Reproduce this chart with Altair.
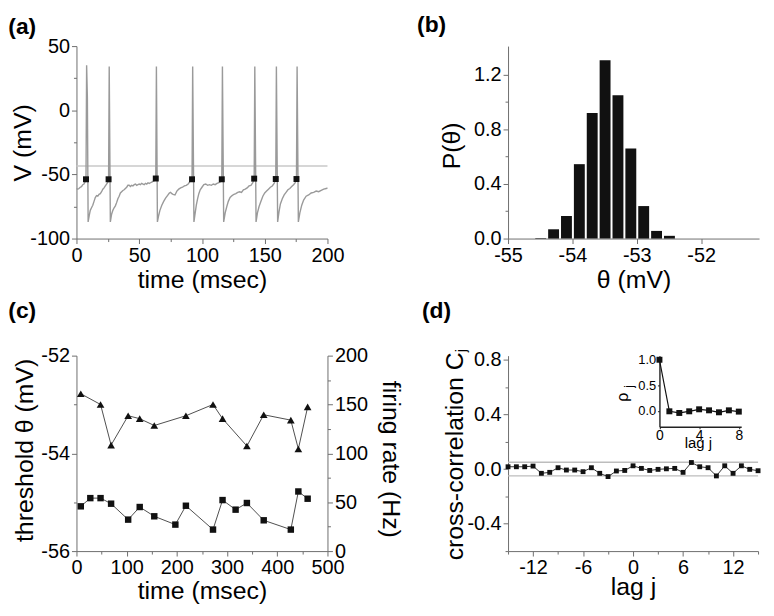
import altair as alt
import pandas as pd

FONT = "Liberation Sans"

# ---------------- (a) membrane potential trace ----------------
trace_t = [0, 1, 2, 3, 4, 5, 6, 7, 7.6, 8.1, 8.7, 9.3,
           10.2, 11, 12, 13, 14, 15, 16, 17, 18, 19, 20, 21, 22, 23, 24, 25, 25.6, 26.1, 27.0,
           28, 29, 30, 31, 32, 33, 34, 35, 36, 37, 38, 39, 40, 41, 42, 43, 44, 45, 46, 47, 48, 49, 50,
           51, 52, 53, 54, 55, 56, 57, 58, 59, 60, 61, 62, 63.2, 63.7, 64.5,
           65.5, 66.5, 68, 69.5, 71, 72.5, 74, 75, 76, 77, 78.5, 80, 81.5, 83, 84.5, 86, 87.5, 89, 90.5,
           92.1, 92.6, 93.6,
           94.6, 95.5, 96.5, 97.5, 98.6, 100, 101.5, 103, 104.5, 106, 107.5, 109, 110.5, 112, 113.5, 115,
           115.8, 116.3, 117.3,
           118.5, 119.8, 121, 122.4, 124, 125.5, 127, 128.5, 130, 131.5, 133, 134.5, 136, 137.5, 139, 140.5,
           141.6, 142.1, 143.1,
           144.2, 145.5, 147, 148.5, 150, 151.5, 153, 154.5, 156, 157.5, 158.8, 159.3, 160.3,
           161.4, 162.5, 164, 165.5, 167, 168.5, 170, 171.5, 173, 174.3, 175.3, 175.8, 176.8,
           178, 179.5, 181, 183, 185, 187, 189, 191, 193, 195, 197, 199, 200]
trace_v = [-61, -61.5, -61, -60, -59.5, -58, -57.5, -55.5, -53.8, 35, 10, -87,
           -82, -78, -76, -74, -71, -68, -66.5, -67, -65.5, -65, -63.5, -61.5, -60.5, -59, -57.5, -56, -53.8, 34, -87,
           -81, -78, -76, -74.5, -72, -69, -67, -64.5, -63.5, -62.5, -62, -61, -60, -58.5, -58.5, -59.5, -58.5, -59, -58, -57.5, -58.5, -58, -57.5,
           -58, -57, -57.5, -58, -57, -57.5, -56.5, -57, -56.5, -56, -55.5, -55, -53.2, 34, -87,
           -82, -78, -74, -71, -68.5, -66.5, -64.5, -64, -65, -65.5, -66, -63, -61.5, -60.5, -60, -59, -58.5, -57.5, -55.5,
           -53.8, 34, -87,
           -80, -74, -69, -65, -62, -60, -58, -57.5, -58.5, -58, -58.5, -57.5, -58, -57, -56.5, -55.5,
           -53.8, 34, -87,
           -80, -75, -71, -68, -66.5, -65.5, -65, -64, -63.5, -64, -62, -61.5, -60.5, -59, -58.5, -56.5,
           -53.3, 34, -87,
           -80, -75, -71, -67, -64.5, -63, -61.5, -60, -59, -57, -53.6, 34, -87,
           -79, -73, -69, -66, -64, -62, -61, -59.5, -58, -56.5, -53.6, 34, -87,
           -80, -74, -70, -67, -66, -64.5, -64, -63, -63.5, -62.5, -61.5, -61, -60.5]
spike_t = [7.6, 25.6, 63.2, 92.1, 115.8, 141.6, 158.8, 175.3]
spike_v = [-53.8, -53.8, -53.2, -53.8, -53.8, -53.3, -53.6, -53.6]
v_ref = [-43.5]
a_x_major = [0, 50, 100, 150, 200]
a_x_minor = [25, 75, 125, 175]
a_y_major = [-100, -50, 0, 50]
a_y_minor = [-75, -25, 25]

# ---------------- (b) threshold histogram ----------------
hist_center = [-54.5, -54.3, -54.1, -53.9, -53.7, -53.5, -53.3, -53.1, -52.9, -52.7, -52.5]
hist_p = [0.005, 0.068, 0.165, 0.545, 0.92, 1.307, 1.05, 0.66, 0.238, 0.056, 0.02]
b_x_major = [-55, -54, -53, -52]
b_x_minor = [-54.5, -53.5, -52.5, -51.5]
b_y_major = [0.0, 0.4, 0.8, 1.2]
b_y_minor = [0.2, 0.6, 1.0]

# ---------------- (c) threshold & firing rate vs time ----------------
c_tri_t = [8.6, 48, 69, 103, 126, 155, 218, 272, 291, 339.5, 373, 427, 442, 460.5]
c_tri_theta = [-52.78, -53.0, -53.83, -53.23, -53.29, -53.43, -53.23, -53.0, -53.29, -53.85, -53.21, -53.32, -53.91, -53.05]
c_sq_t = [8.6, 27.6, 48, 69, 103, 126, 155, 197, 218, 272, 291, 317, 339.5, 373, 427, 442, 460.5]
c_sq_rate = [45.8, 54.2, 54.2, 48.5, 32.2, 45.1, 35.6, 27.1, 46.4, 22.0, 52.2, 42.4, 49.2, 31.5, 22.0, 61.0, 53.6]
c_x_major = [0, 100, 200, 300, 400, 500]
c_x_minor = [50, 150, 250, 350, 450]
c_yl_major = [-56, -54, -52]
c_yl_minor = [-55, -53]
c_yr_major = [0, 50, 100, 150, 200]
c_yr_minor = [25, 75, 125, 175]

# ---------------- (d) cross-correlation ----------------
d_lag = [-15, -14, -13, -12, -11, -10, -9, -8, -7, -6, -5, -4, -3, -2, -1, 0,
         1, 2, 3, 4, 5, 6, 7, 8, 9, 10, 11, 12, 13, 14, 15]
d_cc = [0.017, 0.017, 0.017, 0.022, -0.031, -0.024, 0.010, -0.007, -0.007, -0.019, 0.010, -0.031, -0.055, -0.014, -0.010, 0.024,
        0.005, -0.010, -0.002, 0.002, 0.005, -0.024, 0.048, 0.017, 0.010, -0.050, 0.024, -0.031, 0.024, -0.002, -0.012]
d_band = [-0.05, 0.05]
d_x_major = [-12, -6, 0, 6, 12]
d_x_minor = [-15, -9, -3, 3, 9, 15]
d_y_major = [-0.4, 0.0, 0.4, 0.8]
d_y_minor = [-0.6, -0.2, 0.2, 0.6]
ins_lag = [0, 1, 2, 3, 4, 5, 6, 7, 8]
ins_rho = [1.0, 0.0, -0.032, 0.0, 0.039, 0.019, -0.019, 0.019, -0.006]
ins_x_ticks = [0, 4, 8]
ins_y_ticks = [0.0, 0.5, 1.0]
ins_y_labels = ["0.0", "0.5", "1.0"]

W, H1, H2 = 253, 194, 197


def axis(major, minor, fmt, title, step, **kw):
    test = f"abs(datum.value / {step} - round(datum.value / {step})) < 0.000001"
    return alt.Axis(
        values=sorted(major + minor), format=fmt, title=title,
        labelExpr=f"({test}) ? replace(datum.label, '\u2212', '-') : ''",
        tickSize={"condition": {"test": test, "value": 5}, "value": 3},
        labelFlush=False, labelOverlap=False, grid=False, **kw)


def xaxis_kw(width, ty):
    return dict(titleX=width / 2, titleY=ty, titleAlign="center", titleBaseline="alphabetic")


def yaxis_kw(tx, ty, angle=270):
    return dict(titleX=tx, titleY=ty, titleAngle=angle, titleAlign="center", titleBaseline="middle")


def panel_label(txt, x, y):
    return alt.Chart(pd.DataFrame({"k": [0]})).mark_text(
        text=txt, font=FONT, fontSize=23, fontWeight="bold", align="left", baseline="top", color="black"
    ).encode(x=alt.value(x), y=alt.value(y))


def free_text(txt, x, y, size, angle=0):
    return alt.Chart(pd.DataFrame({"k": [0]})).mark_text(
        text=txt, font=FONT, fontSize=size, align="center", baseline="middle", color="black", angle=angle
    ).encode(x=alt.value(x), y=alt.value(y))


# ---------- panel (a) ----------
df_trace = pd.DataFrame({"t": trace_t, "v": trace_v, "i": list(range(len(trace_t)))})
df_spk = pd.DataFrame({"t": spike_t, "v": spike_v})
xa = alt.X("t:Q", scale=alt.Scale(domain=[0, 200], nice=False, zero=False),
           axis=axis(a_x_major, a_x_minor, "d", "time (msec)", 50, **xaxis_kw(W, 49)))
ya = alt.Y("v:Q", scale=alt.Scale(domain=[-100, 50], nice=False, zero=False),
           axis=axis(a_y_major, a_y_minor, "d", "V (mV)", 50, **yaxis_kw(-54.7, 97)))
pa = alt.layer(
    alt.Chart(pd.DataFrame({"v": v_ref})).mark_rule(color="#c8c8c8", strokeWidth=1.5).encode(y=ya),
    alt.Chart(df_trace).mark_line(color="#9a9a9a", strokeWidth=1.4).encode(x=xa, y=ya, order="i:Q"),
    alt.Chart(df_spk).mark_square(size=36, color="#111111", opacity=1).encode(x=xa, y=ya),
    panel_label("(a)", -68.7, -30.5),
).properties(width=W, height=H1)

# ---------- panel (b) ----------
df_hist = pd.DataFrame({"c": hist_center, "p": hist_p})
xb = alt.X("lo:Q", bin="binned", scale=alt.Scale(domain=[-55, -51.1], nice=False, zero=False),
           axis=axis(b_x_major, b_x_minor, "d", "\u03b8 (mV)", 1, **xaxis_kw(W, 49)))
yb = alt.Y("p:Q", scale=alt.Scale(domain=[0, 1.41], nice=False, zero=False),
           axis=axis(b_y_major, b_y_minor, ".1f", "P(\u03b8)", 0.4, **yaxis_kw(-56.7, 100)))
pb = alt.layer(
    alt.Chart(df_hist).transform_calculate(lo="datum.c - 0.1", hi="datum.c + 0.1")
    .mark_bar(color="#111111", binSpacing=2).encode(x=xb, x2="hi:Q", y=yb),
    panel_label("(b)", -91.7, -32),
).properties(width=W, height=H1)

# ---------- panel (c) ----------
df_tri = pd.DataFrame({"t": c_tri_t, "th": c_tri_theta})
df_sq = pd.DataFrame({"t": c_sq_t, "r": c_sq_rate})
xc = alt.X("t:Q", scale=alt.Scale(domain=[0, 500], nice=False, zero=False),
           axis=axis(c_x_major, c_x_minor, "d", "time (msec)", 100, **xaxis_kw(W, 48)))
ycl = alt.Y("th:Q", scale=alt.Scale(domain=[-56, -52], nice=False, zero=False),
            axis=axis(c_yl_major, c_yl_minor, "d", "threshold \u03b8 (mV)", 2, orient="left",
                      **yaxis_kw(-52.7, 95)))
ycr = alt.Y("r:Q", scale=alt.Scale(domain=[0, 200], nice=False, zero=False),
            axis=axis(c_yr_major, c_yr_minor, "d", "firing rate (Hz)", 50, orient="right",
                      **yaxis_kw(63, 104, angle=90)))
left_c = alt.layer(
    alt.Chart(df_tri).mark_line(color="#222222", strokeWidth=0.8).encode(x=xc, y=ycl),
    alt.Chart(df_tri).mark_point(shape="triangle-up", filled=True, size=60, color="#111111", opacity=1).encode(x=xc, y=ycl),
)
right_c = alt.layer(
    alt.Chart(df_sq).mark_line(color="#222222", strokeWidth=0.8).encode(x=xc, y=ycr),
    alt.Chart(df_sq).mark_square(size=42, color="#111111", opacity=1).encode(x=xc, y=ycr),
)
pc = alt.layer(left_c, right_c, panel_label("(c)", -68.7, -56)).resolve_scale(y="independent").properties(width=W, height=H2)

# ---------- panel (d) ----------
df_cc = pd.DataFrame({"lag": d_lag, "cc": d_cc})
df_band = pd.DataFrame({"cc": d_band})
xd = alt.X("lag:Q", scale=alt.Scale(domain=[-15, 15], nice=False, zero=False),
           axis=axis(d_x_major, d_x_minor, "d", "lag j", 6, **xaxis_kw(W - 1, 44)))
yd = alt.Y("cc:Q", scale=alt.Scale(domain=[-0.6, 0.83], nice=False, zero=False),
           axis=axis(d_y_major, d_y_minor, ".1f", "cross-correlation C", 0.4, **yaxis_kw(-53.7, 101)))
main_d = alt.layer(
    alt.Chart(df_band).mark_rule(color="#bdbdbd", strokeWidth=1.3).encode(y=yd),
    alt.Chart(df_cc).mark_line(color="#333333", strokeWidth=1).encode(x=xd, y=yd),
    alt.Chart(df_cc).mark_square(size=24, color="#111111", opacity=1).encode(x=xd, y=yd),
    panel_label("(d)", -86.7, -56),
    free_text("j", -47, -5, 15, angle=270),
    free_text("\u03c1", 116, 42, 16, angle=270),
    free_text("j", 121.5, 31, 12, angle=270),
)
df_ins = pd.DataFrame({"lg": ins_lag, "rho": ins_rho})
df_ins_lab = pd.DataFrame({"rho": ins_y_ticks, "lbl": ins_y_labels})
xi = alt.X("lg:Q", scale=alt.Scale(domain=[0, 8.24], range=[152.6, 235], nice=False, zero=False),
           axis=alt.Axis(values=ins_x_ticks, format="d", title="lag j", orient="bottom", offset=71.7 - H2,
                         labelFontSize=14, titleFontSize=15, tickSize=2, labelPadding=0,
                         domainColor="#222222", domainWidth=1.4, tickColor="#222222",
                         labelFlush=False, labelOverlap=False, grid=False,
                         titleX=191.3, titleY=21, titleAlign="center", titleBaseline="alphabetic"))
yi = alt.Y("rho:Q", scale=alt.Scale(domain=[-0.3, 1.08], range=[71.7, 0], nice=False, zero=False),
           axis=alt.Axis(values=ins_y_ticks, labels=False, title=None, orient="left", offset=-152.6,
                         tickSize=2, domainColor="#222222", domainWidth=1.4, tickColor="#222222", grid=False))
inset_d = alt.layer(
    alt.Chart(df_ins).mark_line(color="#111111", strokeWidth=1.2).encode(x=xi, y=yi),
    alt.Chart(df_ins).mark_square(size=36, color="#111111", opacity=1).encode(x=xi, y=yi),
    alt.Chart(df_ins_lab).mark_text(font=FONT, fontSize=13, align="right", baseline="middle", color="black")
    .encode(y=yi, x=alt.value(149.3), text="lbl:N"),
)
pd_ = alt.layer(main_d, inset_d).resolve_scale(x="independent", y="independent").properties(width=W - 1, height=H2)

chart = alt.concat(pa, pb, pc, pd_, columns=2, spacing={"row": 118, "column": 182}, bounds="flush").properties(
    padding={"left": 0, "top": 4, "right": 5, "bottom": 5}
).configure_view(strokeWidth=0).configure_axis(
    labelFont=FONT, titleFont=FONT, labelFontSize=20, titleFontSize=25, titleFontWeight="normal",
    labelColor="black", titleColor="black", domainColor="#6e6e6e", tickColor="#6e6e6e",
    domainWidth=1, tickWidth=1, labelPadding=2
).configure_text(font=FONT)

chart.save("out.html", embed_options={"renderer": "svg", "actions": False})
